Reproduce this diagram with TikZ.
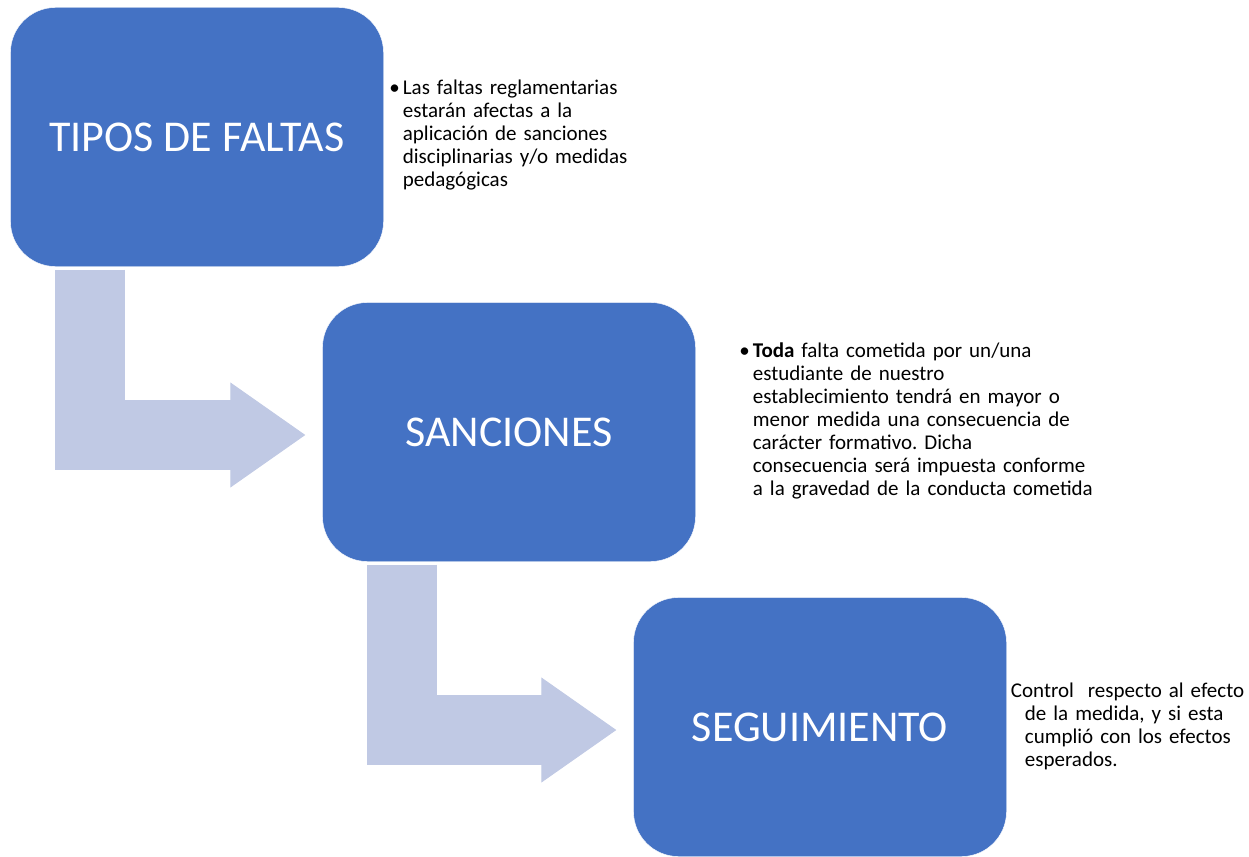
\documentclass[tikz,border=0pt]{standalone}
\usepackage{fontspec}
\setmainfont{Carlito}
\usetikzlibrary{arrows.meta}
\definecolor{boxblue}{RGB}{68,114,196}
\definecolor{arrowblue}{RGB}{192,201,228}
\tikzstyle{block} = [rectangle, rounded corners=45pt, minimum width=373pt, minimum height=259pt, inner sep=0pt, text centered, draw=white, fill=boxblue, text=white, font=\fontsize{44}{52}\selectfont]
\tikzstyle{note} = [anchor=base west, text width=250pt, align=left, inner sep=0pt, font=\fontsize{21}{23}\selectfont\frenchspacing]
\tikzstyle{bent} = [line width=70pt, draw=arrowblue, -{Triangle[length=75pt, width=105pt, line width=1pt]}]

\begin{document}
\begin{tikzpicture}[node distance=295pt]
\useasboundingbox (0,0) rectangle (1249pt,-856pt);

% Boxes
\node (T) [block] at (197pt,-137pt) {TIPOS DE FALTAS};
\node (S) [block, below of=T, xshift=312pt] {SANCIONES};
\node (G) [block, below of=S, xshift=311pt] {SEGUIMIENTO};

% Notes beside the boxes
\node (Tn) [note] at ([xshift=19pt, yshift=-87pt]T.north east) {\llap{\textbullet\hspace{3pt}}Las faltas reglamentarias\\ estarán afectas a la\\ aplicación de sanciones\\ disciplinarias y/o medidas\\ pedagógicas};
\node (Sn) [note, text width=350pt] at ([xshift=57pt, yshift=-55pt]S.north east) {\llap{\textbullet\hspace{3pt}}\textbf{Toda} falta cometida por un/una\\ estudiante de nuestro\\ establecimiento tendrá en mayor o\\ menor medida una consecuencia de\\ carácter formativo. Dicha\\ consecuencia será impuesta conforme\\ a la gravedad de la conducta cometida};
\node (Gn) [note, text width=220pt] at ([xshift=18pt, yshift=-100pt]G.north east) {\hspace*{-14pt}Control\ \ respecto al efecto\\ de la medida, y si esta\\ cumplió con los efectos\\ esperados.};

% Connecting arrows
\draw [bent] ([xshift=80pt, yshift=-3pt]T.south west) |- ([xshift=-17pt, yshift=-3pt]S.west);
\draw [bent] ([xshift=80pt, yshift=-3pt]S.south west) |- ([xshift=-17pt, yshift=-3pt]G.west);

\end{tikzpicture}
\end{document}
